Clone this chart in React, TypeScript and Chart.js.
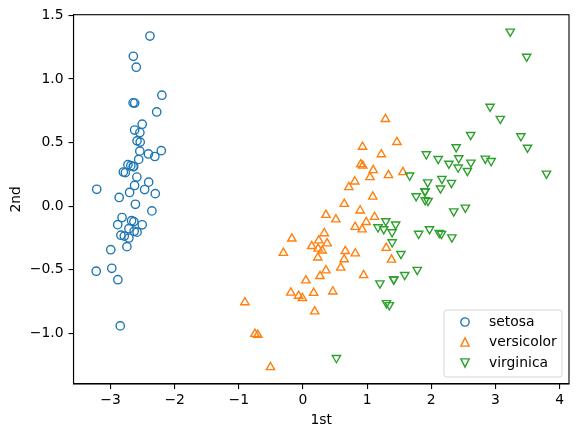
import React, { useEffect, useRef } from "react";
import { Chart, registerables } from "chart.js";

Chart.register(...registerables);

const seriesNames = ["setosa", "versicolor", "virginica"];
const seriesColors = ["#1f77b4", "#ff7f0e", "#2ca02c"];

const setosaX = [-2.684,-2.714,-2.889,-2.745,-2.729,-2.281,-2.821,-2.626,-2.886,-2.673,-2.507,-2.613,-2.786,-3.224,-2.645,-2.386,-2.624,-2.648,-2.200,-2.588,-2.310,-2.544,-3.216,-2.303,-2.356,-2.507,-2.469,-2.562,-2.640,-2.632,-2.587,-2.410,-2.649,-2.599,-2.637,-2.866,-2.625,-2.801,-2.981,-2.590,-2.770,-2.849,-2.997,-2.406,-2.209,-2.714,-2.538,-2.839,-2.543,-2.703];
const setosaY = [0.319,-0.177,-0.145,-0.318,0.327,0.741,-0.089,0.163,-0.578,-0.114,0.645,0.015,-0.235,-0.511,1.179,1.338,0.811,0.312,0.873,0.514,0.391,0.433,0.133,0.099,-0.037,-0.146,0.131,0.368,0.312,-0.197,-0.204,0.411,0.813,1.093,-0.121,0.069,0.599,0.269,-0.488,0.229,0.264,-0.941,-0.342,0.189,0.437,-0.250,0.504,-0.228,0.579,0.108];

const versicolorX = [1.285,0.932,1.464,0.183,1.088,0.642,1.095,-0.749,1.044,-0.009,-0.508,0.512,0.265,0.985,-0.174,0.928,0.660,0.236,0.945,0.045,1.116,0.358,1.298,0.922,0.715,0.900,1.332,1.558,0.813,-0.306,-0.068,-0.190,0.136,1.380,0.588,0.807,1.221,0.815,0.246,0.166,0.465,0.891,0.231,-0.705,0.357,0.332,0.376,0.643,-0.906,0.299];
const versicolorY = [0.685,0.318,0.504,-0.828,0.075,-0.418,0.283,-1.005,0.228,-0.723,-1.266,-0.104,-0.550,-0.125,-0.255,0.467,-0.353,-0.334,-0.543,-0.584,-0.085,-0.069,-0.328,-0.183,0.149,0.329,0.244,0.267,-0.163,-0.368,-0.705,-0.680,-0.314,-0.421,-0.484,0.194,0.408,-0.372,-0.269,-0.682,-0.671,-0.034,-0.404,-1.012,-0.505,-0.213,-0.293,0.018,-0.756,-0.349];

const virginicaX = [2.531,1.415,2.617,1.972,2.350,3.397,0.521,2.933,2.321,2.917,1.662,1.803,2.166,1.346,1.586,1.904,1.950,3.487,3.796,1.301,2.428,1.199,3.500,1.389,2.275,2.614,1.259,1.291,2.124,2.388,2.842,3.231,2.159,1.444,1.781,3.076,2.144,1.905,1.169,2.108,2.314,1.922,1.415,2.563,2.419,1.944,1.527,1.764,1.901,1.390];
const virginicaY = [-0.010,-0.575,0.344,-0.180,-0.040,0.551,-1.193,0.356,-0.244,0.783,0.242,-0.216,0.216,-0.777,-0.540,0.119,0.042,1.176,0.257,-0.761,0.378,-0.606,0.461,-0.204,0.335,0.561,-0.180,-0.117,-0.210,0.465,0.375,1.374,-0.217,-0.143,-0.500,0.688,0.140,0.049,-0.165,0.372,0.184,0.409,-0.575,0.278,0.305,0.188,-0.375,0.079,0.117,-0.283];

const xLabel = "1st";
const yLabel = "2nd";

const FONT = "'DejaVu Sans', sans-serif";
const FS = 13.9;

function fmtMinus(s: string) {
  return s.replace("-", "\u2212");
}

function makeMarker(kind: "o" | "^" | "v", color: string): HTMLCanvasElement {
  const c = document.createElement("canvas");
  c.width = 14;
  c.height = 14;
  const ctx = c.getContext("2d")!;
  const cx = 7, cy = 7, h = 4.17;
  ctx.strokeStyle = color;
  ctx.lineWidth = 1.39;
  ctx.beginPath();
  if (kind === "o") {
    ctx.arc(cx, cy, h, 0, Math.PI * 2);
  } else if (kind === "^") {
    ctx.moveTo(cx, cy - h);
    ctx.lineTo(cx - h, cy + h);
    ctx.lineTo(cx + h, cy + h);
    ctx.closePath();
  } else {
    ctx.moveTo(cx, cy + h);
    ctx.lineTo(cx - h, cy - h);
    ctx.lineTo(cx + h, cy - h);
    ctx.closePath();
  }
  ctx.stroke();
  return c;
}

function zip(xs: number[], ys: number[]) {
  return xs.map((x, i) => ({ x, y: ys[i] }));
}

export default function App() {
  const ref = useRef<HTMLCanvasElement | null>(null);

  useEffect(() => {
    document.body.style.margin = "0";
    const canvas = ref.current!;
    const kinds: ("o" | "^" | "v")[] = ["o", "^", "v"];
    const markers = kinds.map((k, i) => makeMarker(k, seriesColors[i]));
    const xs = [setosaX, versicolorX, virginicaX];
    const ys = [setosaY, versicolorY, virginicaY];
    const styles = ["circle", "triangle", "triangle"];
    const radii = [4.17, 4.8, 4.8];
    const rotations = [0, 0, 180];

    const framePlugin = {
      id: "frame",
      afterDatasetsDraw(chart: any) {
        const { ctx, chartArea } = chart;
        ctx.save();
        ctx.strokeStyle = "#000";
        ctx.lineWidth = 1.1;
        ctx.strokeRect(chartArea.left, chartArea.top, chartArea.right - chartArea.left, chartArea.bottom - chartArea.top);
        // legend
        const bw = 118, bh = 67;
        const bx = chartArea.right - 7 - bw;
        const by = chartArea.bottom - 7 - bh;
        const r = 2.8;
        ctx.beginPath();
        ctx.moveTo(bx + r, by);
        ctx.lineTo(bx + bw - r, by);
        ctx.quadraticCurveTo(bx + bw, by, bx + bw, by + r);
        ctx.lineTo(bx + bw, by + bh - r);
        ctx.quadraticCurveTo(bx + bw, by + bh, bx + bw - r, by + bh);
        ctx.lineTo(bx + r, by + bh);
        ctx.quadraticCurveTo(bx, by + bh, bx, by + bh - r);
        ctx.lineTo(bx, by + r);
        ctx.quadraticCurveTo(bx, by, bx + r, by);
        ctx.closePath();
        ctx.fillStyle = "rgba(255,255,255,0.8)";
        ctx.fill();
        ctx.strokeStyle = "rgba(204,204,204,0.8)";
        ctx.lineWidth = 1;
        ctx.stroke();
        ctx.font = `${FS}px ${FONT}`;
        ctx.fillStyle = "#000";
        ctx.textBaseline = "middle";
        ctx.textAlign = "left";
        const rows = [11.7, 32.4, 53];
        seriesNames.forEach((n, i) => {
          const m = markers[i];
          const my = Math.round(by + rows[i]);
          ctx.drawImage(m, Math.round(bx + 21 - 7), my - 7);
          ctx.fillText(n, bx + 45, my + 0.5);
        });
        ctx.restore();
      },
    };

    const chart = new Chart(canvas, {
      type: "scatter",
      data: {
        datasets: seriesNames.map((n, i) => ({
          label: n,
          data: zip(xs[i], ys[i]),
          pointStyle: styles[i] as any,
          pointRadius: radii[i],
          pointHoverRadius: radii[i],
          pointRotation: rotations[i],
          borderWidth: 1.39,
          pointBorderWidth: 1.39,
          borderColor: seriesColors[i],
          backgroundColor: "transparent",
          order: 3 - i,
        })),
      },
      options: {
        animation: false,
        responsive: false,
        devicePixelRatio: 1,
        events: [],
        layout: { padding: { top: 14.7, right: 13, left: 0, bottom: 0 } },
        plugins: { legend: { display: false }, tooltip: { enabled: false } },
        scales: {
          x: {
            type: "linear",
            min: -3.578,
            max: 4.147,
            afterFit: (s: any) => { s.height = 53; },
            ticks: {
              stepSize: 1,
              includeBounds: false,
              color: "#000",
              font: { family: FONT, size: FS },
              padding: 3,
              maxRotation: 0,
              callback: (v: any) => fmtMinus(String(Math.round(Number(v)))),
            },
            grid: { display: true, drawOnChartArea: false, drawTicks: true, tickLength: 5, color: "#000", lineWidth: 1.1 },
            border: { display: true, color: "#000", width: 1.1 },
            title: { display: true, text: xLabel, color: "#000", font: { family: FONT, size: FS }, padding: { top: 0, bottom: 8.4 } },
          },
          y: {
            type: "linear",
            min: -1.398,
            max: 1.506,
            afterFit: (s: any) => { s.width = 73.5; },
            ticks: {
              stepSize: 0.5,
              includeBounds: false,
              color: "#000",
              font: { family: FONT, size: FS },
              padding: 5,
              callback: (v: any) => fmtMinus(Number(v).toFixed(1)),
            },
            grid: { display: true, drawOnChartArea: false, drawTicks: true, tickLength: 5, color: "#000", lineWidth: 1.1 },
            border: { display: true, color: "#000", width: 1.1 },
            title: { display: true, text: yLabel, color: "#000", font: { family: FONT, size: FS }, padding: { top: 8.3, bottom: 0 } },
          },
        },
      },
      plugins: [framePlugin],
    } as any);

    return () => chart.destroy();
  }, []);

  return (
    <div style={{ width: 582, height: 437 }}>
      <canvas ref={ref} width={582} height={437} style={{ display: "block" }} />
    </div>
  );
}
